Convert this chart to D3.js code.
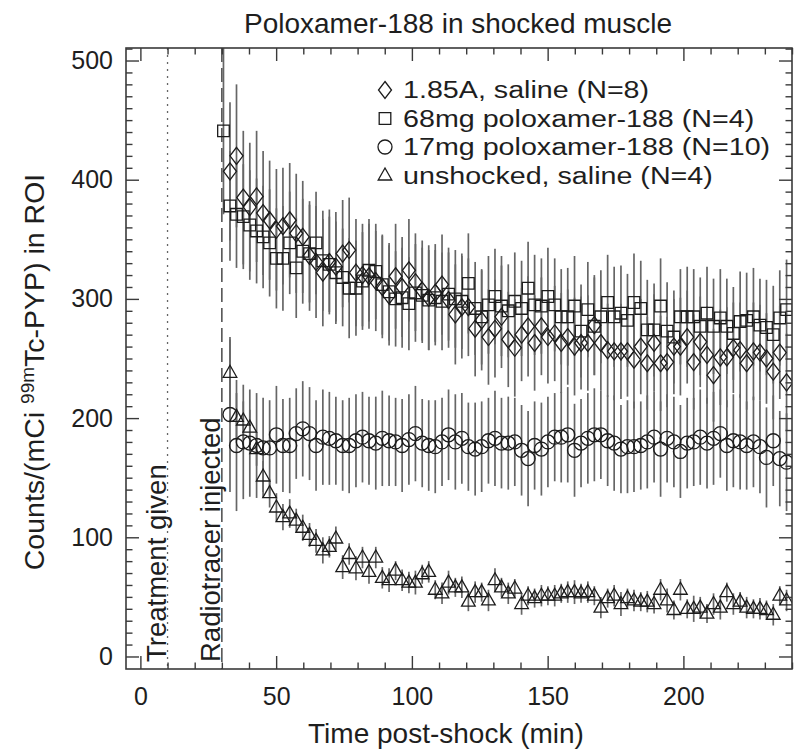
<!DOCTYPE html>
<html><head><meta charset="utf-8">
<script src="https://cdn.jsdelivr.net/npm/d3@7"></script>
<style>
html,body{margin:0;padding:0;background:#fff;}
text{font-family:"Liberation Sans",Arial,Helvetica,sans-serif;fill:#1e1e1e;}
</style></head>
<body>
<svg id="chart" width="800" height="756"></svg>
<script>
// ---------------- data ----------------
const titleText = "Poloxamer-188 in shocked muscle";
const xLabelText = "Time post-shock (min)";
const xTickLabels = [0, 50, 100, 150, 200];
const yTickLabels = [0, 100, 200, 300, 400, 500];
const treatmentTime = 10, injectionTime = 30;

const times = [30.6,
 33.0,35.4,37.9,40.3,42.8,45.2,47.6,50.1,52.5,55.0,
 57.4,59.8,62.3,64.7,67.2,69.6,72.0,74.5,76.9,79.4,
 81.8,84.2,86.7,89.1,91.6,94.0,96.4,98.9,101.3,103.8,
 106.2,108.6,111.1,113.5,116.0,118.4,120.8,123.3,125.7,128.2,
 130.6,133.0,135.5,137.9,140.4,142.8,145.2,147.7,150.1,152.6,
 155.0,157.4,159.9,162.3,164.8,167.2,169.6,172.1,174.5,177.0,
 179.4,181.8,184.3,186.7,189.2,191.6,194.0,196.5,198.9,201.4,
 203.8,206.2,208.7,211.1,213.6,216.0,218.4,220.9,223.3,225.8,
 228.2,230.6,233.1,235.5,238.0];

const salineShocked = [null,
 407,420,385,377,386,372,366,358,361,366,
 355,352,336,331,322,331,327,338,341,322,
 320,319,315,310,303,319,310,324,314,307,
 301,305,312,299,287,293,293,275,282,268,
 275,285,266,259,270,277,263,277,268,271,
 263,268,260,263,263,278,263,257,256,256,
 256,249,260,246,263,246,247,260,260,268,
 247,264,253,236,251,251,259,257,246,256,
 255,250,239,255,230];
const salineShockedErr = [null,
 58,60,56,54,55,52,50,51,49,48,
 50,47,46,47,45,44,46,45,44,45,
 43,44,42,43,42,44,42,43,41,42,
 44,41,42,40,42,43,41,40,42,40,
 41,43,40,41,39,42,40,41,39,40,
 42,40,41,39,40,42,40,39,41,40,
 38,41,40,39,41,40,38,40,41,39,
 40,38,41,39,40,42,38,40,39,41,
 40,38,40,39,41];

const p68 = [441,
 378,371,369,362,357,352,347,334,334,347,
 326,340,338,347,332,329,322,318,309,309,
 315,324,323,312,306,300,301,296,305,303,
 299,301,298,304,300,298,313,292,285,295,
 302,294,290,298,292,309,295,294,302,295,
 285,285,294,273,291,277,285,297,285,288,
 282,297,292,274,274,294,273,268,285,285,
 285,277,288,277,284,277,271,281,282,285,
 278,276,270,284,291];
const p68Err = [70,
 46,45,44,46,44,43,45,42,44,43,
 42,44,41,43,42,40,43,41,42,40,
 41,43,40,42,41,40,42,39,41,40,
 42,40,41,39,41,40,42,39,40,41,
 40,42,39,41,40,39,42,40,41,39,
 40,41,42,39,40,41,39,40,42,40,
 39,41,40,42,39,40,41,39,40,42,
 40,41,39,40,41,40,39,42,40,41,
 39,40,41,40,42];

const p17 = [null,
 203,177,180,179,177,175,175,186,177,177,
 187,191,187,177,184,183,181,177,177,181,
 184,181,179,183,181,180,177,182,187,179,
 177,176,180,186,180,183,176,174,176,181,
 183,179,179,180,173,166,177,174,180,184,
 184,186,173,179,183,186,186,181,179,174,
 176,176,177,180,184,174,183,180,172,179,
 180,184,179,183,187,177,181,180,177,180,
 176,167,181,166,163];
const p17Err = [null,
 65,55,48,45,44,42,40,41,39,40,
 38,40,39,38,40,39,37,38,40,39,
 38,37,39,40,38,37,39,38,40,37,
 38,39,37,38,40,38,37,39,38,36,
 40,38,39,37,38,40,37,39,38,37,
 38,40,39,37,38,39,37,38,40,37,
 39,38,37,39,38,40,37,38,39,38,
 37,40,38,39,37,38,39,40,37,38,
 39,42,38,40,41];

const unshocked = [null,
 238,201,198,192,174,151,137,125,117,120,
 114,108,102,97,89,92,99,75,86,74,
 83,71,83,66,64,72,64,62,62,69,
 71,56,53,62,58,58,46,54,54,47,
 64,58,53,57,44,51,49,51,51,51,
 53,54,54,53,54,51,41,49,51,44,
 49,47,46,46,44,56,47,39,56,40,
 40,41,36,44,41,54,44,46,41,40,
 40,39,35,51,47];
const unshockedErr = [null,
 28,20,16,15,14,13,12,12,11,12,
 10,11,10,10,11,9,10,10,9,10,
 9,10,9,9,10,8,9,9,10,8,
 9,8,9,10,8,9,8,9,8,9,
 10,8,9,8,9,8,8,9,8,9,
 8,9,10,8,9,8,9,8,9,10,
 8,9,8,9,8,9,10,8,9,8,
 11,9,8,9,10,8,9,8,9,8,
 9,8,9,8,9];

const seriesNames = ["1.85A, saline (N=8)", "68mg poloxamer-188 (N=4)", "17mg poloxamer-188 (N=10)", "unshocked, saline (N=4)"];
const seriesShapes = ["diamond", "square", "circle", "triangle"];
const seriesValues = [salineShocked, p68, p17, unshocked];
const seriesErrors = [salineShockedErr, p68Err, p17Err, unshockedErr];

// ---------------- layout ----------------
const svg = d3.select("#chart");
const box = {left:126, right:792, top:48, bottom:669};
const x = d3.scaleLinear().domain([-5.3, 240]).range([box.left, box.right]);
const y = d3.scaleLinear().domain([-10.5, 510.5]).range([box.bottom, box.top]);
const axisColor = "#3a3a3a";
const FONT = "'Liberation Sans',Arial,Helvetica,sans-serif";

svg.append("defs").append("clipPath").attr("id","plotclip")
  .append("rect").attr("x",box.left).attr("y",box.top)
  .attr("width",box.right-box.left).attr("height",box.bottom-box.top);

function drawMarker(g, shape){
  if(shape==="circle") return g.append("circle").attr("r",7);
  let d;
  if(shape==="diamond") d = "M0,-8.5L6.5,0L0,8.5L-6.5,0Z";
  else if(shape==="square") d = "M-5.8,-5.8H5.8V5.8H-5.8Z";
  else d = "M0,-7.5L6.8,4.5L-6.8,4.5Z";
  return g.append("path").attr("d", d);
}

// reference lines
svg.append("line").attr("x1",x(treatmentTime)).attr("x2",x(treatmentTime))
  .attr("y1",box.top).attr("y2",box.bottom)
  .attr("stroke","#666").attr("stroke-width",1.3).attr("stroke-dasharray","2,5");
svg.append("line").attr("x1",x(injectionTime)).attr("x2",x(injectionTime))
  .attr("y1",box.top).attr("y2",box.bottom)
  .attr("stroke","#555").attr("stroke-width",1.6).attr("stroke-dasharray","14,6");

// data
const plot = svg.append("g").attr("clip-path","url(#plotclip)");
seriesValues.forEach((vals, si) => {
  const errs = seriesErrors[si];
  const pts = times.map((t,i)=>({t, v:vals[i], e:errs[i]})).filter(d=>d.v!=null);
  plot.append("g").selectAll("line").data(pts).join("line")
    .attr("x1",d=>x(d.t)).attr("x2",d=>x(d.t))
    .attr("y1",d=>y(d.v-d.e)).attr("y2",d=>y(d.v+d.e))
    .attr("stroke","#666").attr("stroke-width",1.7);
});
seriesValues.forEach((vals, si) => {
  const shape = seriesShapes[si];
  const pts = times.map((t,i)=>({t, v:vals[i]})).filter(d=>d.v!=null);
  const g = plot.append("g");
  pts.forEach(d=>{
    drawMarker(g.append("g").attr("transform",`translate(${x(d.t)},${y(d.v)})`), shape)
      .attr("fill","none").attr("stroke","#1c1c1c").attr("stroke-width",1.3);
  });
});

// axes
const xMinor = d3.range(0, 241, 10).filter(v=>v%50!==0);
const yMinor = d3.range(0, 511, 10).filter(v=>v%100!==0);
function styleAxis(g){
  g.select(".domain").remove();
  g.selectAll("line").attr("stroke",axisColor).attr("stroke-width",1.4);
  g.selectAll("text").attr("fill","#1e1e1e").style("font-size","25px").style("font-family",FONT);
}
svg.append("g").attr("transform",`translate(0,${box.bottom})`)
  .call(d3.axisBottom(x).tickValues(xTickLabels).tickSize(-13).tickPadding(18).tickFormat(d3.format("d"))).call(styleAxis);
svg.append("g").attr("transform",`translate(0,${box.bottom})`)
  .call(d3.axisBottom(x).tickValues(xMinor).tickSize(-6.5).tickFormat("")).call(styleAxis);
svg.append("g").attr("transform",`translate(0,${box.top})`)
  .call(d3.axisTop(x).tickValues(xTickLabels).tickSize(-13).tickFormat("")).call(styleAxis);
svg.append("g").attr("transform",`translate(0,${box.top})`)
  .call(d3.axisTop(x).tickValues(xMinor).tickSize(-6.5).tickFormat("")).call(styleAxis);
svg.append("g").attr("transform",`translate(${box.left},0)`)
  .call(d3.axisLeft(y).tickValues(yTickLabels).tickSize(-13).tickPadding(13).tickFormat(d3.format("d"))).call(styleAxis);
svg.append("g").attr("transform",`translate(${box.left},0)`)
  .call(d3.axisLeft(y).tickValues(yMinor).tickSize(-6.5).tickFormat("")).call(styleAxis);
svg.append("g").attr("transform",`translate(${box.right},0)`)
  .call(d3.axisRight(y).tickValues(yTickLabels).tickSize(-13).tickFormat("")).call(styleAxis);
svg.append("g").attr("transform",`translate(${box.right},0)`)
  .call(d3.axisRight(y).tickValues(yMinor).tickSize(-6.5).tickFormat("")).call(styleAxis);

svg.append("rect").attr("x",box.left).attr("y",box.top)
  .attr("width",box.right-box.left).attr("height",box.bottom-box.top)
  .attr("fill","none").attr("stroke",axisColor).attr("stroke-width",1.6);

// texts
svg.append("text").attr("x",458).attr("y",33)
  .attr("text-anchor","middle").style("font-size","28px").text(titleText);
svg.append("text").attr("x",446).attr("y",743)
  .attr("text-anchor","middle").style("font-size","28px").text(xLabelText);

const yl = svg.append("text").attr("transform","translate(44,372) rotate(-90)")
  .attr("text-anchor","middle").style("font-size","28.5px");
yl.append("tspan").text("Counts/(mCi ");
yl.append("tspan").attr("baseline-shift","super").style("font-size","19px").text("99m");
yl.append("tspan").text("Tc-PYP) in ROI");

svg.append("text").attr("transform",`translate(${x(treatmentTime)-2},662) rotate(-90)`)
  .style("font-size","27.5px").text("Treatment given");
svg.append("text").attr("transform",`translate(${x(injectionTime)-2},662) rotate(-90)`)
  .style("font-size","27.5px").text("Radiotracer injected");

// legend (tightly stacked rows, slightly wide glyphs as in the original)
const legend = svg.append("g");
seriesNames.forEach((name, i) => {
  const by = 98 + i*28.5;
  const mg = legend.append("g").attr("transform",`translate(385,${by-8})`);
  drawMarker(mg, seriesShapes[i]).attr("fill","none").attr("stroke","#1c1c1c").attr("stroke-width",1.3);
  legend.append("text").attr("transform",`translate(403,${by}) scale(1.17,1)`)
    .attr("x",0).attr("y",0).style("font-size","24.5px").text(name);
});
</script>
</body></html>
